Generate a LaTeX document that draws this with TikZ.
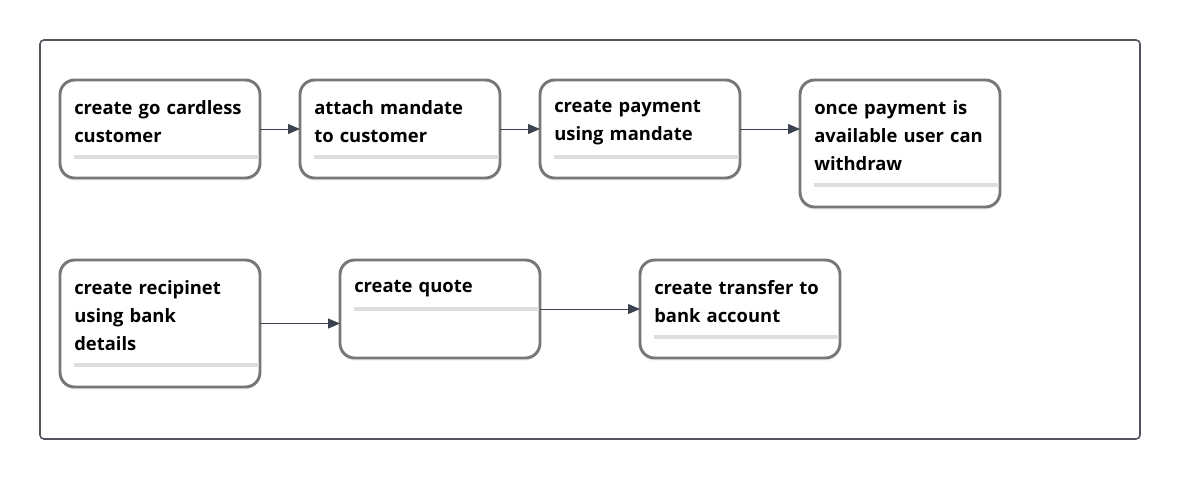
\documentclass[tikz,border=0pt]{standalone}
\usepackage{fontspec}
\setmainfont{Open Sans}
\usepackage{tikz}
\usetikzlibrary{arrows.meta,shadows}

\definecolor{boxgray}{HTML}{777777}
\definecolor{sepgray}{HTML}{DDDDDD}
\definecolor{framegray}{HTML}{50555D}
\definecolor{arrowgray}{HTML}{3C4350}

\begin{document}
\begin{tikzpicture}[x=0.75pt, y=-0.75pt,
    stepbox/.style={draw=boxgray, line width=2.2pt, rounded corners=11pt, fill=white,
      minimum width=150pt, inner sep=0pt, outer sep=0pt, anchor=north west,
      drop shadow={opacity=0.12, shadow xshift=0pt, shadow yshift=-2pt}},
    steptext/.style={anchor=north west, inner sep=0pt, align=left, text width=145pt,
      font=\fontsize{13.8}{21}\selectfont\bfseries},
    sep/.style={draw=sepgray, line width=2.4pt},
    flow/.style={draw=arrowgray, line width=0.75pt, -{Triangle[length=9pt,width=7.5pt]}}]
  \useasboundingbox (0,0) rectangle (1180,480);
  \draw[framegray, line width=1.2pt, rounded corners=3pt] (40,40) rectangle (1140,439);

  % first row
  \node[stepbox, minimum height=73.5pt] (gc) at (60,80) {};
  \node[steptext] (gc-t) at (74,100) {create go cardless\\customer};
  \draw[sep] (74,157) -- (259,157);

  \node[stepbox, minimum height=73.5pt] (mandate) at (300,80) {};
  \node[steptext] (mandate-t) at (314,100) {attach mandate\\to customer};
  \draw[sep] (314,157) -- (499,157);

  \node[stepbox, minimum height=73.5pt] (payment) at (540,80) {};
  \node[steptext] (payment-t) at (554,100) {create payment\\using mandate};
  \draw[sep] (554,157) -- (739,157);

  \node[stepbox, minimum height=95.25pt] (withdraw) at (800,80) {};
  \node[steptext] (withdraw-t) at (814,100) {once payment is\\available user can\\withdraw};
  \draw[sep] (814,185) -- (999,185);

  % second row
  \node[stepbox, minimum height=95.25pt] (recipient) at (60,260) {};
  \node[steptext] (recipient-t) at (74,280) {create recipinet\\using bank\\details};
  \draw[sep] (74,365) -- (259,365);

  \node[stepbox, minimum height=73.5pt] (quote) at (340,260) {};
  \node[steptext] (quote-t) at (354,280) {create quote};
  \draw[sep] (354,309) -- (539,309);

  \node[stepbox, minimum height=73.5pt] (transfer) at (640,260) {};
  \node[steptext] (transfer-t) at (654,280) {create transfer to\\bank account};
  \draw[sep] (654,337) -- (839,337);

  \draw[flow] (gc.east) -- (gc.east -| mandate.west);
  \draw[flow] (mandate.east) -- (mandate.east -| payment.west);
  \draw[flow] (payment.east) -- (payment.east -| withdraw.west);
  \draw[flow] (recipient.east) -- (recipient.east -| quote.west);
  \draw[flow] (quote.east) -- (quote.east -| transfer.west);
\end{tikzpicture}
\end{document}
